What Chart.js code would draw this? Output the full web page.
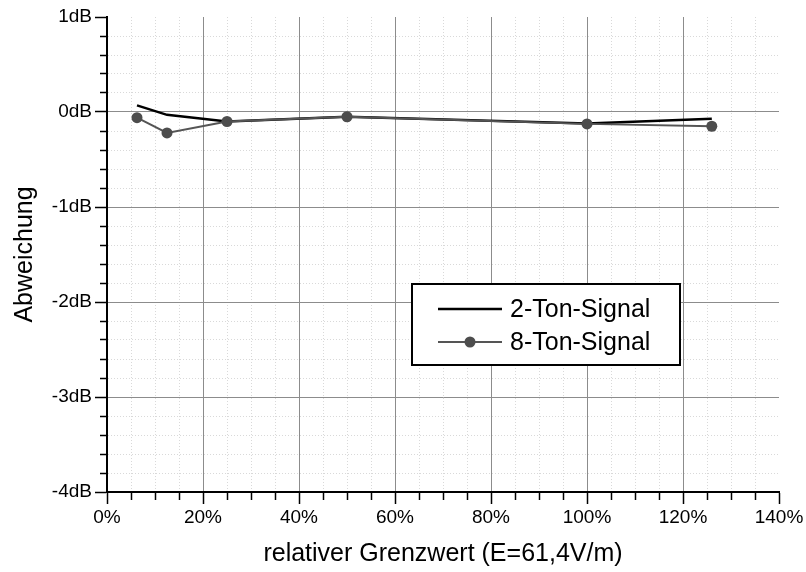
<!DOCTYPE html>
<html>
<head>
<meta charset="utf-8">
<script src="https://cdn.jsdelivr.net/npm/chart.js@4"></script>
<style>
  html, body { margin: 0; padding: 0; background: #fff; }
  #wrap { width: 806px; height: 572px; }
</style>
</head>
<body>
<div id="wrap"><canvas id="grafik"></canvas></div>
<script>
// Messwerte: relativer Grenzwert in %, Abweichung in dB
var xWerte = [6.25, 12.5, 25, 50, 100, 126];
var zweiTon = [0.07, -0.03, -0.10, -0.05, -0.12, -0.07];
var achtTon = [-0.06, -0.22, -0.10, -0.05, -0.125, -0.15];
var serienNamen = ['2-Ton-Signal', '8-Ton-Signal'];
var xTickLabels = [0, 20, 40, 60, 80, 100, 120, 140];
var yTickLabels = [1, 0, -1, -2, -3, -4];

var schrift = 'Liberation Sans, Arial, sans-serif';

function punkte(werte) {
  return xWerte.map(function(x, i) { return { x: x, y: werte[i] }; });
}
function istHauptX(v) {
  return xTickLabels.some(function(t) { return Math.abs(t - v) < 1e-6; });
}
function istHauptY(v) {
  return yTickLabels.some(function(t) { return Math.abs(t - v) < 1e-6; });
}

// Legende im Diagramm mit Rahmen
var legendeKasten = {
  id: 'legendeKasten',
  afterDraw: function(chart) {
    var c = chart.ctx;
    var ds = chart.data.datasets;
    c.save();
    c.fillStyle = '#fff';
    c.fillRect(412, 284, 268, 81);
    c.lineWidth = 2;
    c.strokeStyle = '#000';
    c.strokeRect(412, 284, 268, 81);
    var zeilen = [309, 342];
    ds.forEach(function(d, i) {
      var y = zeilen[i];
      c.beginPath();
      c.lineWidth = d.borderWidth;
      c.strokeStyle = d.borderColor;
      c.moveTo(438, y);
      c.lineTo(502, y);
      c.stroke();
      if (d.pointRadius > 0) {
        c.beginPath();
        c.fillStyle = d.pointBackgroundColor;
        c.arc(470, y, d.pointRadius, 0, Math.PI * 2);
        c.fill();
      }
      c.fillStyle = '#000';
      c.font = '25px ' + schrift;
      c.textBaseline = 'alphabetic';
      c.fillText(d.label, 510, y + 8);
    });
    c.restore();
  }
};

var ctx = document.getElementById('grafik').getContext('2d');
var grafik = new Chart(ctx, {
  type: 'line',
  data: {
    datasets: [{
      label: serienNamen[0],
      data: punkte(zweiTon),
      borderColor: '#000',
      borderWidth: 2.5,
      pointRadius: 0,
      tension: 0,
      order: 1
    }, {
      label: serienNamen[1],
      data: punkte(achtTon),
      borderColor: '#555',
      borderWidth: 2,
      pointRadius: 5.5,
      pointBackgroundColor: '#4d4d4d',
      pointBorderWidth: 0,
      tension: 0,
      order: 0
    }]
  },
  options: {
    responsive: true,
    maintainAspectRatio: false,
    animation: false,
    layout: { padding: { left: 0, top: 17, right: 27, bottom: 0 } },
    plugins: { legend: { display: false }, tooltip: { enabled: false } },
    scales: {
      x: {
        type: 'linear',
        min: 0,
        max: 140,
        afterFit: function(s) { s.height = 80; },
        ticks: {
          stepSize: 5,
          autoSkip: false,
          maxRotation: 0,
          padding: 2,
          color: '#000',
          font: { size: 19, family: schrift },
          callback: function(v) { return istHauptX(v) ? v + '%' : ''; }
        },
        grid: {
          color: function(c) {
            if (!c.tick) return '#000';
            if (c.tick.value >= 140 || c.tick.value <= 0) return 'rgba(0,0,0,0)';
            return istHauptX(c.tick.value) ? '#8c8c8c' : '#d9d9d9';
          },
          lineWidth: 1,
          tickLength: 12,
          tickColor: '#000',
          tickWidth: 1.5,
          tickBorderDash: function(c) {
            return (c.tick && istHauptX(c.tick.value)) ? [] : [7, 100];
          }
        },
        border: {
          color: '#000',
          width: 2,
          dash: function(c) {
            return (c.tick && !istHauptX(c.tick.value)) ? [1, 2] : [];
          }
        },
        title: {
          display: true,
          text: 'relativer Grenzwert (E=61,4V/m)',
          color: '#000',
          font: { size: 25, family: schrift },
          padding: { top: 0, bottom: 3 }
        }
      },
      y: {
        min: -4,
        max: 1,
        afterFit: function(s) { s.width = 107; },
        ticks: {
          stepSize: 0.2,
          autoSkip: false,
          padding: 3,
          color: '#000',
          font: { size: 19, family: schrift },
          callback: function(v) { return istHauptY(v) ? Math.round(v) + 'dB' : ''; }
        },
        grid: {
          color: function(c) {
            if (!c.tick) return '#000';
            if (c.tick.value >= 1 - 1e-6 || c.tick.value <= -4 + 1e-6) return 'rgba(0,0,0,0)';
            return istHauptY(c.tick.value) ? '#8c8c8c' : '#d9d9d9';
          },
          lineWidth: 1,
          tickLength: 12,
          tickColor: '#000',
          tickWidth: 1.5,
          tickBorderDash: function(c) {
            return (c.tick && istHauptY(c.tick.value)) ? [] : [0, 5, 7, 100];
          }
        },
        border: {
          color: '#000',
          width: 2,
          dash: function(c) {
            return (c.tick && !istHauptY(c.tick.value)) ? [1, 2] : [];
          }
        },
        title: {
          display: true,
          text: 'Abweichung',
          color: '#000',
          font: { size: 25, family: schrift },
          padding: { top: 10, bottom: 0 }
        }
      }
    }
  },
  plugins: [legendeKasten]
});
</script>
</body>
</html>
